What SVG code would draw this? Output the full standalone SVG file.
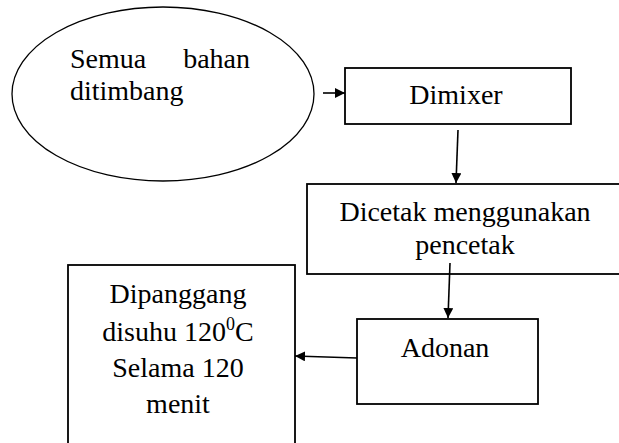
<svg xmlns="http://www.w3.org/2000/svg" width="619" height="443" viewBox="0 0 619 443">
<style>
.box{fill:#fff;stroke:#000;stroke-width:1.8}
.c{text-anchor:middle}
.con{stroke:#000;stroke-width:1.6;fill:none;marker-end:url(#ah)}
</style>
<defs>
<marker id="ah" markerWidth="10" markerHeight="10" refX="10" refY="5" orient="auto" markerUnits="userSpaceOnUse">
<path d="M0,0 L10,5 L0,10 Z" fill="#000"/>
</marker>
</defs>
<rect width="619" height="443" fill="#fff"/>
<g id="n-semua" font-family="Liberation Serif" font-size="28">
<ellipse cx="163" cy="94" rx="151" ry="87" fill="#fff" stroke="#000" stroke-width="1.3"/>
<text x="70" y="68">Semua</text>
<text x="250" y="68" text-anchor="end">bahan</text>
<text x="70" y="100">ditimbang</text>
</g>
<g id="n-dimixer" font-family="Liberation Serif" font-size="28">
<rect class="box" x="345" y="68" width="226" height="56"/>
<text class="c" x="456" y="104">Dimixer</text>
</g>
<g id="n-dicetak" font-family="Liberation Serif" font-size="28">
<rect class="box" x="307" y="184" width="330" height="90"/>
<text class="c" x="465" y="221">Dicetak menggunakan</text>
<text class="c" x="465" y="254">pencetak</text>
</g>
<g id="n-adonan" font-family="Liberation Serif" font-size="28">
<rect class="box" x="357" y="319" width="181" height="85"/>
<text class="c" x="445" y="357">Adonan</text>
</g>
<g id="n-dipanggang" font-family="Liberation Serif" font-size="28">
<rect class="box" x="68" y="265" width="227" height="200"/>
<text class="c" x="178" y="303">Dipanggang</text>
<text class="c" x="178" y="341">disuhu 120<tspan font-size="18" dy="-11">0</tspan><tspan dy="11">C</tspan></text>
<text class="c" x="178" y="377">Selama 120</text>
<text class="c" x="178" y="413">menit</text>
</g>
<g id="connectors">
<line class="con" x1="323" y1="93" x2="345" y2="93"/>
<line class="con" x1="458" y1="130" x2="456" y2="183"/>
<line class="con" x1="450" y1="263" x2="448" y2="318"/>
<line class="con" x1="357" y1="358" x2="295" y2="356"/>
</g>
</svg>
